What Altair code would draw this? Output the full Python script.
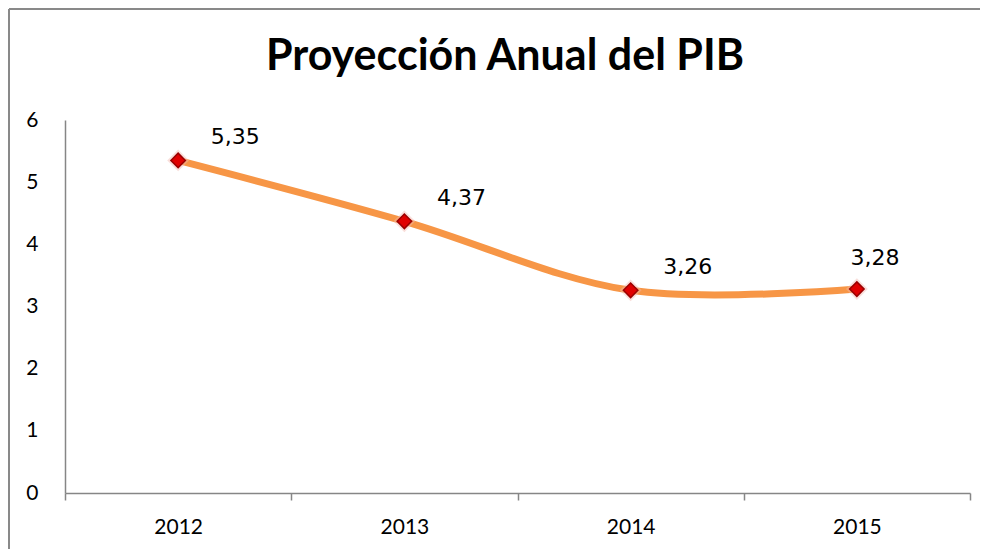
import altair as alt
import pandas as pd

years = ["2012", "2013", "2014", "2015"]
pib = [5.35, 4.37, 3.26, 3.28]
y_ticks = [0, 1, 2, 3, 4, 5, 6]
title_text = "Proyección Anual del PIB"

df = pd.DataFrame({"year": years, "pib": pib})

W, H = 905, 373

x_enc = alt.X("year:N", sort=years,
              scale=alt.Scale(type="band", paddingInner=0, paddingOuter=0),
              axis=alt.Axis(title=None, labelAngle=0, tickBand="extent", tickSize=7,
                            labelPadding=16, labelFont="Lato", labelFontSize=21,
                            labelColor="#000000", domainColor="#868686", tickColor="#868686",
                            domainWidth=1.5, tickWidth=1.5, grid=False))
y_enc = alt.Y("pib:Q", scale=alt.Scale(domain=[0, 6], nice=False, zero=True),
              axis=alt.Axis(title=None, values=y_ticks, ticks=False, labelPadding=27,
                            labelFont="Lato", labelFontSize=21, labelColor="#000000",
                            domainColor="#868686", domainWidth=1.5, grid=False))

base = alt.Chart(df).encode(x=x_enc, y=y_enc)

line = base.mark_line(color="#F79646", strokeWidth=7, interpolate="catmull-rom")
halo = base.mark_point(shape="diamond", filled=True, size=480, color="#F2B8B0", opacity=0.45)
pts = base.mark_point(shape="diamond", filled=True, size=210, fill="#E00000",
                      stroke="#9A0000", strokeWidth=1.5, opacity=1)

lab_base = base.transform_calculate(
    lab="replace(format(datum.pib, '.2f'), '.', ',')")
labels = lab_base.transform_filter("datum.year != '2015'").mark_text(
    font="DejaVu Sans", fontSize=22, color="#000000", dx=57, dy=-23,
    align="center", baseline="middle").encode(text="lab:N")
labels_last = lab_base.transform_filter("datum.year == '2015'").mark_text(
    font="DejaVu Sans", fontSize=22, color="#000000", dx=18, dy=-31,
    align="center", baseline="middle").encode(text="lab:N")

frame = alt.Data(values=[{}])
border_top = alt.Chart(frame).mark_rule(color="#898989", strokeWidth=2, clip=False).encode(
    x=alt.value(-56), x2=alt.value(W + 20), y=alt.value(-111))
border_left = alt.Chart(frame).mark_rule(color="#898989", strokeWidth=2, clip=False).encode(
    x=alt.value(-56), y=alt.value(-111), y2=alt.value(H + 120))
title = alt.Chart(frame).mark_text(
    text=title_text, font="Lato", fontSize=43, fontWeight="bold", color="#000000",
    align="center", baseline="alphabetic").encode(x=alt.value(440), y=alt.value(-50))

chart = alt.layer(border_top, border_left, line, halo, pts, labels, labels_last, title).properties(
    width=W, height=H,
    background="#FFFFFF",
    autosize=alt.AutoSizeParams(type="none"),
    padding={"left": 57, "top": 112, "right": 10, "bottom": 56},
).configure_view(strokeWidth=0, stroke="transparent")

chart.save("out.html", embed_options={"renderer": "svg", "actions": False})
